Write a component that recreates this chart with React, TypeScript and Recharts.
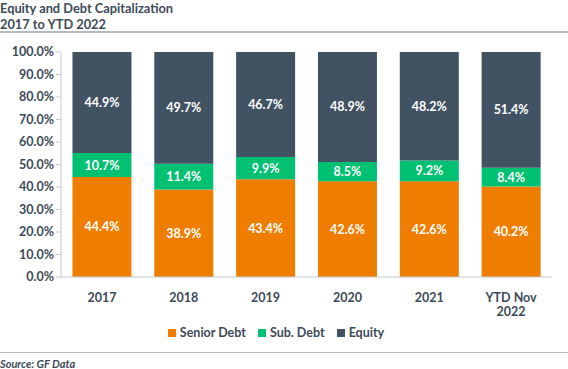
import { BarChart, Bar, XAxis, YAxis, Legend, LabelList } from 'recharts';

const categories = ['2017', '2018', '2019', '2020', '2021', 'YTD Nov\n2022'];
const seniorDebt = [44.4, 38.9, 43.4, 42.6, 42.6, 40.2];
const subDebt = [10.7, 11.4, 9.9, 8.5, 9.2, 8.4];
const equity = [44.9, 49.7, 46.7, 48.9, 48.2, 51.4];
const yTicks = [0, 10, 20, 30, 40, 50, 60, 70, 80, 90, 100];
const legendItems = [
    { name: 'Senior Debt', color: '#ef7d00' },
    { name: 'Sub. Debt', color: '#00c071' },
    { name: 'Equity', color: '#415263' },
];

const data = categories.map((name, i) => ({
    name,
    senior: seniorDebt[i],
    sub: subDebt[i],
    equity: equity[i],
}));

const TEXT = '#3d4a57';
const FONT = 'Lato, "Open Sans", sans-serif';

function XTick({ x, y, payload }: any) {
    const lines = String(payload.value).split('\n');
    return (
        <text x={x} y={y + 8} textAnchor="middle" fill={TEXT} fontSize={12.5} fontWeight={700} fontFamily={FONT}>
            {lines.map((l, i) => (
                <tspan key={i} x={x} dy={i === 0 ? '0.71em' : '1.15em'}>{l}</tspan>
            ))}
        </text>
    );
}

function LegendContent() {
    return (
        <div style={{ display: 'flex', justifyContent: 'center', gap: 12, fontFamily: FONT, fontSize: 12.5, fontWeight: 700, color: TEXT, lineHeight: '16px' }}>
            {legendItems.map((it) => (
                <span key={it.name} style={{ display: 'flex', alignItems: 'center', gap: 4 }}>
                    <span style={{ width: 8, height: 8, background: it.color, display: 'inline-block' }} />
                    {it.name}
                </span>
            ))}
        </div>
    );
}

const pct = (v: any) => `${Number(v).toFixed(1)}%`;

const labelStyle = { fill: '#fff', fontSize: 12.5, fontWeight: 700, fontFamily: FONT };

export default function App() {
    return (
        <div style={{ position: 'absolute', left: 0, top: 0, width: 568, height: 369, background: '#fff', fontFamily: FONT }}>
            <div style={{ position: 'absolute', left: 0, top: 0, color: TEXT, fontWeight: 700, fontSize: 12.8, lineHeight: '16px' }}>
                Equity and Debt Capitalization<br />2017 to YTD 2022
            </div>
            <div style={{ position: 'absolute', left: 0, top: 31, width: 568, height: 2, background: '#b3bac1' }} />
            <BarChart
                width={568}
                height={369}
                data={data}
                margin={{ top: 52, right: 16, left: 0, bottom: 28 }}
                barCategoryGap="14%"
            >
                <XAxis
                    dataKey="name"
                    height={48}
                    interval={0}
                    tick={<XTick />}
                    tickLine={false}
                    axisLine={{ stroke: '#c4c9ce' }}
                />
                <YAxis
                    width={61}
                    domain={[0, 100]}
                    ticks={yTicks}
                    tickFormatter={pct}
                    tick={{ fill: TEXT, fontSize: 12.5, fontWeight: 700, fontFamily: FONT }}
                    tickLine={{ stroke: '#c4c9ce' }}
                    tickSize={5}
                    axisLine={{ stroke: '#c4c9ce' }}
                />
                <Legend verticalAlign="bottom" content={<LegendContent />} />
                <Bar dataKey="senior" name="Senior Debt" stackId="a" fill="#ef7d00" isAnimationActive={false}>
                    <LabelList dataKey="senior" position="center" formatter={pct} style={labelStyle} />
                </Bar>
                <Bar dataKey="sub" name="Sub. Debt" stackId="a" fill="#00c071" isAnimationActive={false}>
                    <LabelList dataKey="sub" position="center" formatter={pct} style={labelStyle} />
                </Bar>
                <Bar dataKey="equity" name="Equity" stackId="a" fill="#415263" isAnimationActive={false}>
                    <LabelList dataKey="equity" position="center" formatter={pct} style={labelStyle} />
                </Bar>
            </BarChart>
            <div style={{ position: 'absolute', left: 0, top: 352, width: 568, height: 1, background: '#b3bac1' }} />
            <div style={{ position: 'absolute', left: 0, top: 357, color: TEXT, fontSize: 11, fontStyle: 'italic', fontWeight: 700, lineHeight: '13px' }}>
                Source: GF Data
            </div>
        </div>
    );
}
